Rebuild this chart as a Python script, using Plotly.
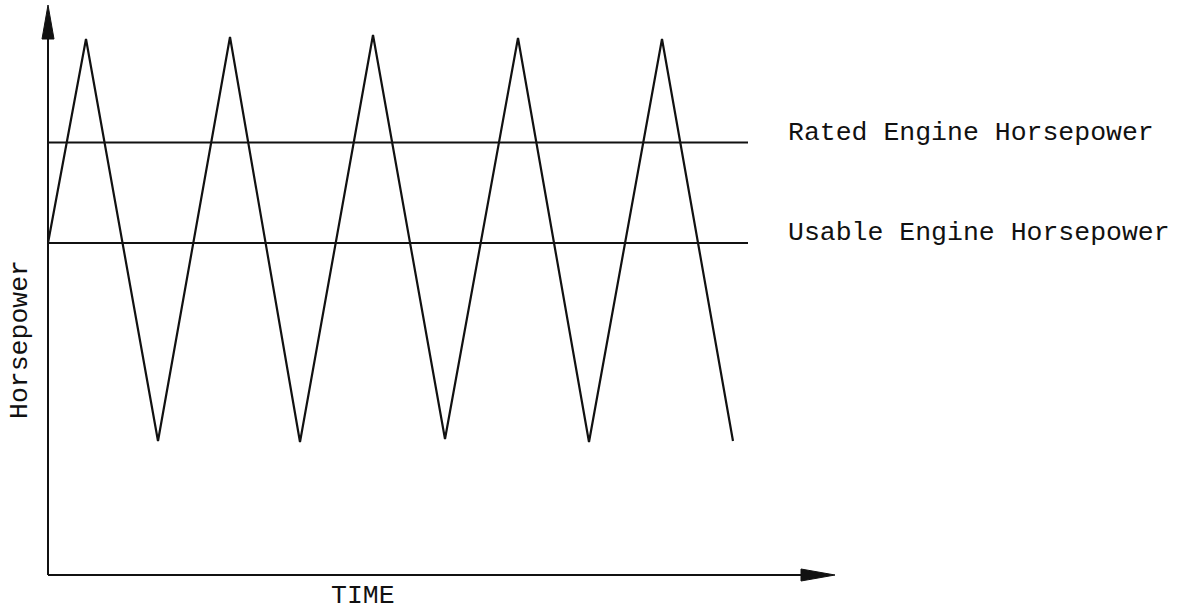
import plotly.graph_objects as go

# Data (arbitrary units: time and horsepower)
wave_time = [0, 38, 110, 182, 252, 325, 397, 470, 541, 614, 685]
wave_hp = [332, 536, 134, 538, 133, 540, 136, 537, 133, 536, 134]

line_names = ["Rated Engine Horsepower", "Usable Engine Horsepower"]
line_hp = [432.5, 332]
line_end_time = 700

x_axis_len = 787   # arrow tip along time axis
y_axis_len = 570   # arrow tip along horsepower axis
arrow_len = 34
arrow_half = 6

x_title = "TIME"
y_title = "Horsepower"

FONT = "Liberation Mono, Courier New, monospace"
INK = "#111111"

fig = go.Figure()

fig.add_trace(go.Scatter(x=wave_time, y=wave_hp, mode="lines",
                         line=dict(color=INK, width=2.2), showlegend=False,
                         hoverinfo="skip"))

for name, hp in zip(line_names, line_hp):
    fig.add_trace(go.Scatter(x=[0, line_end_time], y=[hp, hp], mode="lines",
                             line=dict(color=INK, width=2), showlegend=False,
                             hoverinfo="skip"))
    fig.add_annotation(x=line_end_time + 38, y=hp + 10, text=name,
                       showarrow=False, xanchor="left", yanchor="middle",
                       font=dict(family=FONT, size=26.5, color=INK))

# axes with arrows
fig.add_shape(type="line", x0=0, y0=0, x1=x_axis_len - arrow_len, y1=0,
              line=dict(color=INK, width=2))
fig.add_shape(type="line", x0=0, y0=0, x1=0, y1=y_axis_len - arrow_len,
              line=dict(color=INK, width=2))
fig.add_shape(type="path",
              path=f"M {x_axis_len - arrow_len},{-arrow_half} L {x_axis_len},0 L {x_axis_len - arrow_len},{arrow_half} Z",
              fillcolor=INK, line=dict(color=INK, width=1))
fig.add_shape(type="path",
              path=f"M {-arrow_half},{y_axis_len - arrow_len} L 0,{y_axis_len} L {arrow_half},{y_axis_len - arrow_len} Z",
              fillcolor=INK, line=dict(color=INK, width=1))

fig.add_annotation(x=315, y=-21, text=x_title, showarrow=False,
                   xanchor="center", yanchor="middle",
                   font=dict(family=FONT, size=26.5, color=INK))
fig.add_annotation(x=-28, y=235, text=y_title, showarrow=False, textangle=-90,
                   xanchor="center", yanchor="middle",
                   font=dict(family=FONT, size=26.5, color=INK))

fig.update_layout(
    width=1181, height=612,
    margin=dict(l=0, r=0, t=0, b=0),
    paper_bgcolor="white", plot_bgcolor="white",
    xaxis=dict(range=[-48, 1133], visible=False, fixedrange=True),
    yaxis=dict(range=[-37, 575], visible=False, fixedrange=True),
)

fig.write_html("out.html", config={"displayModeBar": False},
               post_script="document.body.style.margin='0';document.body.style.overflow='hidden';")
